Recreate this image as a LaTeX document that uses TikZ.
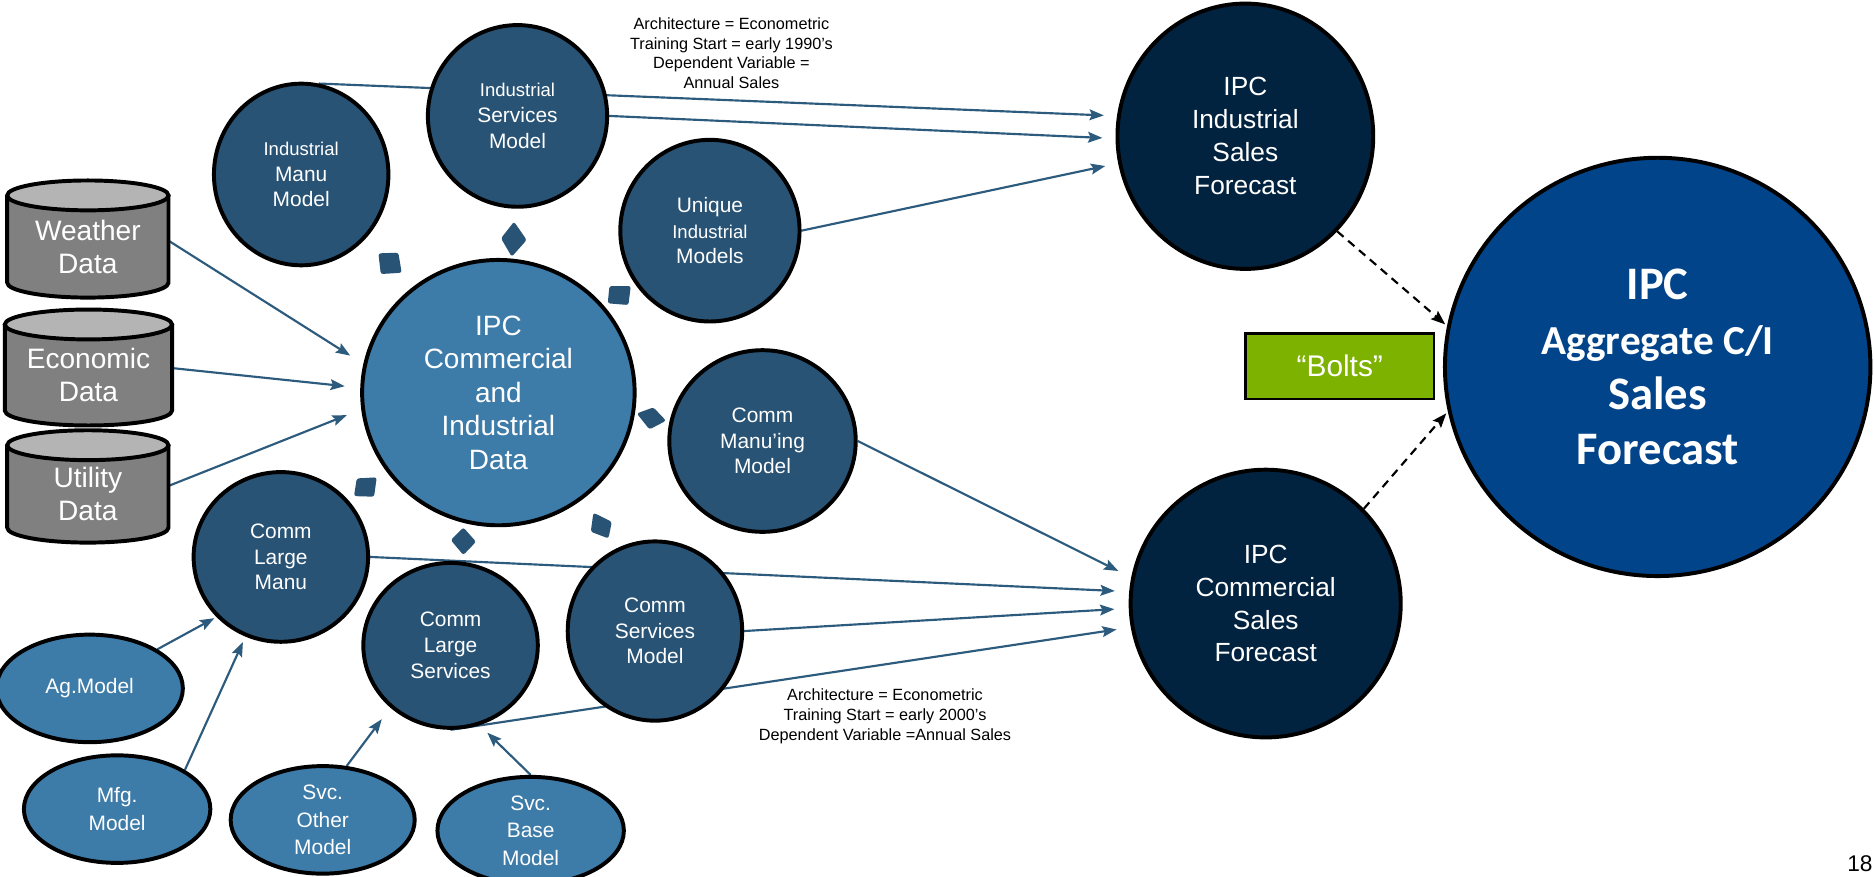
\documentclass[tikz,border=0pt]{standalone}
\usepackage{fontspec}
\setmainfont{Liberation Sans}
\newfontfamily\calib{Carlito}
\usetikzlibrary{shapes.geometric,arrows.meta}
\pgfdeclarelayer{bg}
\pgfsetlayers{bg,main}
\definecolor{darkfill}{HTML}{285375}
\definecolor{lightfill}{HTML}{3D7BA8}
\definecolor{navyfill}{HTML}{022340}
\definecolor{aggfill}{HTML}{02448A}
\definecolor{arrowc}{HTML}{2D5B7D}
\definecolor{boltgreen}{HTML}{7DB300}
\definecolor{cylbody}{HTML}{808080}
\definecolor{cyltop}{HTML}{B4B4B4}
\begin{document}
\begin{tikzpicture}[x=1pt,y=-1pt,
  bubble/.style={ellipse, draw=black, line width=3.3pt, text=white, inner sep=0pt, align=center},
  darkb/.style={bubble, fill=darkfill, font={\fontsize{17.5}{21.5}\selectfont}},
  lightb/.style={bubble, fill=lightfill, font={\fontsize{17.5}{23}\selectfont}},
  navyb/.style={bubble, fill=navyfill, font={\fontsize{22}{27.5}\selectfont}},
  cyltext/.style={inner sep=0pt, minimum height=70pt, text=white, align=center, font={\fontsize{23.5}{27.5}\selectfont}},
  cylshape/.style={fill=cylbody, draw=black, line width=3.3pt, line join=round},
  cyllid/.style={fill=cyltop, draw=black, line width=3.3pt},
  link/.style={draw=arrowc, line width=1.8pt, -{Stealth[length=12pt,width=9pt,inset=2pt]}},
  dlink/.style={draw=black, line width=1.8pt, dash pattern=on 7pt off 5pt, -{Stealth[length=12pt,width=9pt,inset=2pt]}},
  diam/.style={fill=darkfill, rounded corners=2pt},
  note/.style={align=center, font={\fontsize{13.6}{16.7}\selectfont}, inner sep=0pt}
]
\useasboundingbox (0,0) rectangle (1568,733);

% cylinders
\path[cylshape] (6,163.5) -- (6,236.5) arc[start angle=180,end angle=0,x radius=67.5,y radius=12.5] -- (141,163.5) -- cycle;
\path[cyllid] (73.5,163.5) ellipse [x radius=67.5, y radius=12.5];
\node[cyltext, minimum width=135pt] (weather) at (73.5,206.5) {Weather\\Data};

\path[cylshape] (4,271.5) -- (4,343.5) arc[start angle=180,end angle=0,x radius=70,y radius=12.5] -- (144,271.5) -- cycle;
\path[cyllid] (74,271.5) ellipse [x radius=70, y radius=12.5];
\node[cyltext, minimum width=140pt] (econ) at (74,314) {Economic\\Data};

\path[cylshape] (6,372.5) -- (6,441.5) arc[start angle=180,end angle=0,x radius=67.5,y radius=12.5] -- (141,372.5) -- cycle;
\path[cyllid] (73.5,372.5) ellipse [x radius=67.5, y radius=12.5];
\node[cyltext, minimum width=135pt] (util) at (73.5,413.5) {Utility\\Data};

% bubbles
\node[darkb, minimum width=146pt, minimum height=152pt] (indmanu) at (252,146) {{\fontsize{15.5}{21.5}\selectfont Industrial}\\Manu\\Model};
\node[darkb, minimum width=150pt, minimum height=152pt] (indserv) at (433,97) {{\fontsize{15.5}{21.5}\selectfont Industrial}\\Services\\Model};
\node[darkb, minimum width=150pt, minimum height=152pt] (unique) at (594,193) {Unique\\{\fontsize{15.5}{21.5}\selectfont Industrial}\\Models};
\node[lightb, minimum width=228pt, minimum height=222pt, font={\fontsize{23.4}{28}\selectfont}] (center) at (417,328.5) {IPC\\Commercial\\and\\Industrial\\Data};
\node[darkb, minimum width=156pt, minimum height=152pt] (commanu) at (638,369) {Comm\\Manu’ing\\Model};
\node[darkb, minimum width=146pt, minimum height=142pt] (clmanu) at (235,466) {Comm\\Large\\Manu};
\node[darkb, minimum width=146pt, minimum height=138pt] (clserv) at (377,540) {Comm\\Large\\Services};
\node[darkb, minimum width=146pt, minimum height=150pt] (cserv) at (548,528) {Comm\\Services\\Model};
\node[lightb, minimum width=156pt, minimum height=90pt] (ag) at (75,576) {Ag.Model};
\node[lightb, minimum width=156pt, minimum height=90pt] (mfg) at (98,677) {Mfg.\\Model};
\node[lightb, minimum width=154pt, minimum height=90pt] (svco) at (270,686) {Svc.\\Other\\Model};
\node[lightb, minimum width=156pt, minimum height=90pt] (svcb) at (444,695) {Svc.\\Base\\Model};

\node[navyb, minimum width=214pt, minimum height=222pt] (indfc) at (1042,114) {IPC\\Industrial\\Sales\\Forecast};
\node[navyb, minimum width=226pt, minimum height=224pt] (comfc) at (1059,505) {IPC\\Commercial\\Sales\\Forecast};
\node[bubble, fill=aggfill, minimum width=356pt, minimum height=350pt, font={\calib\bfseries\fontsize{39}{46}\selectfont}] (agg) at (1387,307) {IPC\\{\fontsize{34.5}{46}\selectfont Aggregate C/I}\\Sales\\Forecast};

\node[draw=black, line width=2pt, fill=boltgreen, text=white, minimum width=158pt, minimum height=55pt, inner sep=0pt, font={\fontsize{25}{30}\selectfont}] (bolts) at (1121,306.5) {“Bolts”};

% notes
\node[note] (topnote) at (612,44.5) {Architecture = Econometric\\Training Start = early 1990’s\\Dependent Variable =\\Annual Sales};
\node[note] (botnote) at (740.5,599.5) {Architecture = Econometric\\Training Start = early 2000’s\\Dependent Variable =Annual Sales};
\node[anchor=base east, inner sep=0pt, font={\fontsize{19}{22}\selectfont}] (pagenum) at (1567,729) {18};

% small decorative shapes
\path[diam] (430.1,185.5) -- (440.7,200.8) -- (428.2,214.8) -- (419.2,199.4) -- cycle;
\path[diam] (316.6,212) -- (333.3,211.4) -- (336.1,228.2) -- (318.6,229.3) -- cycle;
\path[diam] (509.9,239.3) -- (527.8,239.3) -- (525.8,255.2) -- (508.5,253.8) -- cycle;
\path[diam] (532.8,345.9) -- (546.7,340.9) -- (557.3,352) -- (543.4,359.3) -- cycle;
\path[diam] (298.5,400.3) -- (315.2,399.4) -- (313,415.6) -- (296.2,415.1) -- cycle;
\path[diam] (387.7,441.3) -- (398.3,453.3) -- (387.7,464.4) -- (377.2,451.9) -- cycle;
\path[diam] (496.5,429) -- (511.9,436.6) -- (509.1,450.5) -- (494.3,444.9) -- cycle;

% connectors
\begin{pgfonlayer}{bg}
\draw[link, shorten >=11pt] (indmanu.79) -- (indfc.171);
\draw[link, shorten >=11pt] (indserv.0) -- (indfc.181);
\draw[link, shorten >=11pt] (unique.0) -- (indfc.192);
\draw[link, shorten >=13pt] ([yshift=5pt]weather.east) -- (center.168.4);
\draw[link, shorten >=13pt] ([yshift=6pt]econ.east) -- (center.178);
\draw[link, shorten >=13pt] ([yshift=7pt]util.east) -- (center.187);
\draw[link, shorten >=12pt] (commanu.0) -- (comfc.169);
\draw[link, shorten >=12pt] (clmanu.0) -- (comfc.175);
\draw[link, shorten >=12pt] (cserv.0) -- (comfc.182);
\draw[link, shorten >=12pt] (clserv.270) -- (comfc.190);
\draw[link, shorten >=2pt] (ag.30) -- (clmanu.223);
\draw[link, shorten >=5pt] (mfg.30.5) -- (clmanu.246);
\draw[link, shorten >=12pt] (svco.66) -- (clserv.226.5);
\draw[link, shorten >=9pt] (svcb.90) -- (clserv.290);
\draw[dlink, shorten >=2pt] (indfc.314) -- (agg.169);
\draw[dlink, shorten >=2pt] (comfc.44.5) -- (agg.192.5);
\end{pgfonlayer}
\end{tikzpicture}
\end{document}
